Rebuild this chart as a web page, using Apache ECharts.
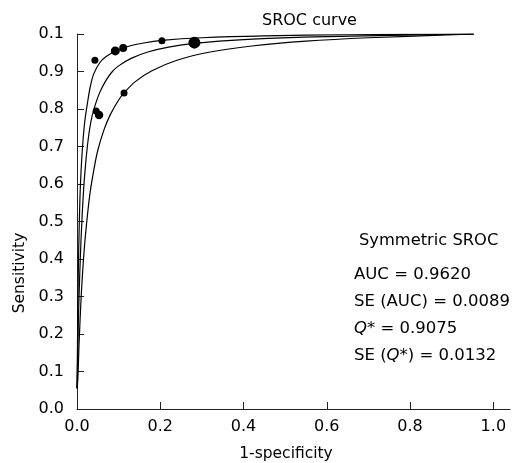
<!DOCTYPE html>
<html>
<head>
<meta charset="utf-8">
<script src="https://cdn.jsdelivr.net/npm/echarts@6/dist/echarts.min.js"></script>
<style>
  html, body { margin: 0; padding: 0; background: #fff; }
  #chart { width: 528px; height: 463px; }
</style>
</head>
<body>
<div id="chart"></div>
<script>
// curves: [1-specificity, sensitivity]
var upperCurve = [
  [0, 0.055], [0.001, 0.15], [0.002, 0.27], [0.004, 0.42], [0.007, 0.56], [0.010, 0.64],
  [0.014, 0.71], [0.019, 0.77], [0.025, 0.815], [0.032, 0.86], [0.040, 0.893], [0.055, 0.924],
  [0.070, 0.940], [0.092, 0.954], [0.120, 0.966], [0.160, 0.976], [0.204, 0.983], [0.300, 0.990],
  [0.450, 0.995], [0.650, 0.998], [0.953, 1.0]
];
var middleCurve = [
  [0, 0.055], [0.001, 0.10], [0.003, 0.22], [0.006, 0.34], [0.010, 0.46], [0.015, 0.57],
  [0.020, 0.645], [0.027, 0.72], [0.035, 0.775], [0.045, 0.815], [0.055, 0.845], [0.070, 0.877],
  [0.085, 0.900], [0.100, 0.915], [0.130, 0.935], [0.170, 0.952], [0.220, 0.965], [0.282, 0.975],
  [0.400, 0.985], [0.600, 0.993], [0.953, 1.0]
];
var lowerCurve = [
  [0, 0.055], [0.002, 0.08], [0.005, 0.175], [0.010, 0.30], [0.015, 0.39], [0.020, 0.46],
  [0.030, 0.565], [0.040, 0.635], [0.050, 0.69], [0.065, 0.745], [0.080, 0.785], [0.100, 0.824],
  [0.113, 0.843], [0.140, 0.873], [0.180, 0.902], [0.240, 0.930], [0.320, 0.952], [0.420, 0.968],
  [0.550, 0.981], [0.700, 0.990], [0.953, 1.0]
];
// studies: [1-specificity, sensitivity, weight]
var studies = [
  [0.043, 0.930, 7], [0.092, 0.955, 9], [0.111, 0.963, 8], [0.204, 0.982, 7],
  [0.282, 0.977, 12], [0.046, 0.795, 7], [0.053, 0.784, 8.5], [0.113, 0.843, 7]
];
var xTicks = [0, 0.2, 0.4, 0.6, 0.8, 1.0];
var xTickLabels = ['0.0', '0.2', '0.4', '0.6', '0.8', '1.0'];
var yTickLabels = ['0.0', '0.1', '0.2', '0.3', '0.4', '0.5', '0.6', '0.7', '0.8', '0.9', '0.1'];
var statLines = ['AUC = 0.9620', 'SE (AUC) = 0.0089', '{i|Q}* = 0.9075', 'SE ({i|Q}*) = 0.0132'];

var font = 'DejaVu Sans';
var myChart = echarts.init(document.getElementById('chart'));

function curveSeries(data) {
  return {
    type: 'line',
    data: data,
    symbol: 'none',
    smooth: 0.3,
    lineStyle: { color: '#000', width: 1.2 },
    silent: true
  };
}

var option = {
  animation: false,
  grid: { left: 77, right: 18, top: 34, bottom: 54, outerBoundsMode: 'none' },
  xAxis: {
    type: 'value',
    min: 0,
    max: 1.04,
    name: '1-specificity',
    nameLocation: 'middle',
    nameGap: 37,
    nameTextStyle: { fontFamily: font, fontSize: 15.5, color: '#000', padding: [0, 15, 0, 0] },
    splitLine: { show: false },
    axisLine: { lineStyle: { color: '#222', width: 1 } },
    axisTick: { inside: true, length: 7, customValues: xTicks, lineStyle: { color: '#222' } },
    axisLabel: {
      customValues: xTicks,
      margin: 10,
      fontFamily: font, fontSize: 16, color: '#000',
      formatter: function (v) { return xTickLabels[xTicks.indexOf(v)]; }
    }
  },
  yAxis: {
    type: 'value',
    min: 0,
    max: 1,
    interval: 0.1,
    splitLine: { show: false },
    axisLine: { show: true, lineStyle: { color: '#222', width: 1 } },
    axisTick: { show: true, inside: true, length: 7, lineStyle: { color: '#222' } },
    axisLabel: {
      margin: 13,
      fontFamily: font, fontSize: 16, color: '#000',
      formatter: function (v) { return yTickLabels[Math.round(v * 10)]; }
    }
  },
  graphic: [
    {
      type: 'text', left: 262, top: 13,
      style: { text: 'SROC curve', fontFamily: font, fontSize: 16, fill: '#000' }
    },
    {
      type: 'text', x: 20, y: 273, rotation: Math.PI / 2,
      style: { text: 'Sensitivity', fontFamily: font, fontSize: 15.5, fill: '#000',
        align: 'center', verticalAlign: 'middle' }
    },
    {
      type: 'text', left: 359, top: 233,
      style: { text: 'Symmetric SROC', fontFamily: font, fontSize: 16.3, fill: '#000' }
    }
  ].concat(statLines.map(function (s, i) {
    return {
      type: 'text', left: 354, top: 266 + i * 27,
      style: {
        text: s, fontFamily: font, fontSize: 16.5, fill: '#000',
        rich: { i: { fontStyle: 'italic', fontFamily: font, fontSize: 16.5, fill: '#000' } }
      }
    };
  })),
  series: [
    curveSeries(upperCurve),
    curveSeries(middleCurve),
    curveSeries(lowerCurve),
    {
      type: 'scatter',
      data: studies,
      symbol: 'circle',
      symbolSize: function (d) { return d[2]; },
      itemStyle: { color: '#000', opacity: 1 },
      z: 5
    }
  ]
};
myChart.setOption(option);
</script>
</body>
</html>
